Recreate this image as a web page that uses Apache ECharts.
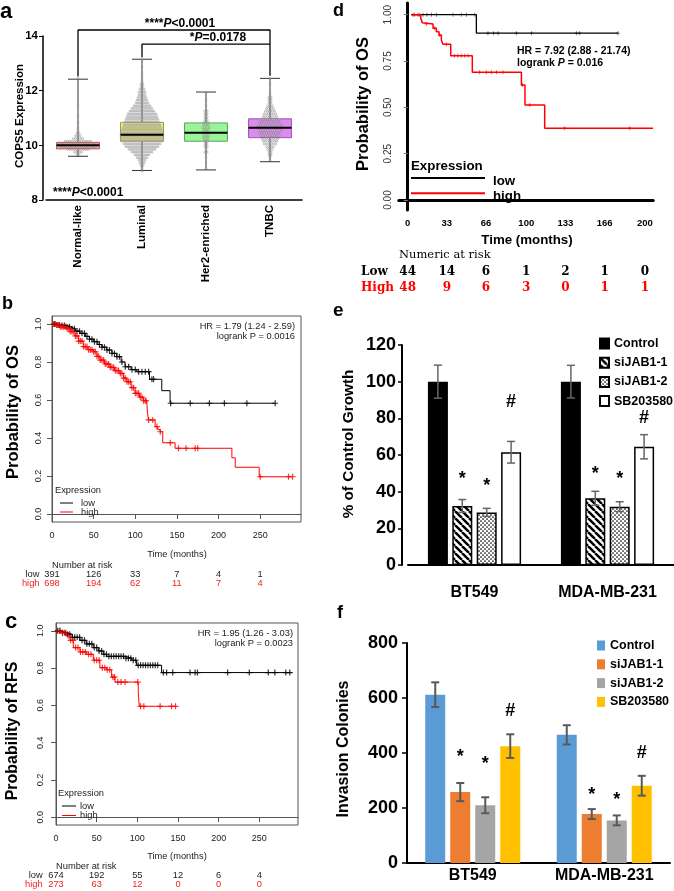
<!DOCTYPE html>
<html><head><meta charset="utf-8">
<script src="https://cdn.jsdelivr.net/npm/echarts@6/dist/echarts.min.js"></script>
<style>html,body{margin:0;padding:0;background:#fff}#c{width:674px;height:891px}</style>
</head><body><div id="c"></div>
<script>
// ===== Panel a: COPS5 expression by subtype =====
const subtypes = ['Normal-like', 'Luminal', 'Her2-enriched', 'TNBC'];
const boxMin = [9.6, 9.08, 9.1, 9.4];
const boxQ1 = [9.87, 10.15, 10.15, 10.28];
const boxMed = [10.0, 10.39, 10.46, 10.64];
const boxQ3 = [10.11, 10.84, 10.82, 10.97];
const boxMax = [12.42, 13.15, 11.95, 12.45];
const swarmStart = [9.6, 9.0, 9.1, 9.4];
const normalCounts = [2,4,10,16,17,12,5,3,2,1,1,0,1,0,1,0,0,0,1,0,0,0,0,0,0,0,0,0,1];
const luminalCounts = [1,1,2,3,4,6,8,11,14,17,19,21,22,22,22,21,20,19,18,17,16,15,13,11,9,7,6,5,4,4,3,2,2,1,1,1,1,0,1,0,0,1];
const her2Counts = [1,0,1,0,1,0,2,1,2,2,2,3,3,3,3,4,3,3,2,2,2,2,0,1,0,1,0,0,1];
const tnbcCounts = [1,1,2,2,3,4,6,7,8,9,10,11,12,11,10,9,7,6,5,4,3,2,2,2,1,1,0,0,1,0,1];

// ===== Panel b: OS (KM) =====
const osLow = [[0,1],[5,0.995],[10,0.992],[17.6,0.985],[22,0.975],[28,0.962],[33.7,0.951],[40,0.935],[45,0.92],[49.7,0.907],[55,0.892],[60,0.878],[65.7,0.863],[72,0.845],[77.8,0.828],[83,0.8],[87.8,0.775],[95,0.76],[101.8,0.749],[117,0.709],[131.8,0.649],[141.8,0.583],[268,0.583]];
const osHigh = [[0,1],[5,0.995],[10,0.985],[17.6,0.977],[22,0.96],[27.7,0.937],[32,0.91],[37.6,0.881],[43,0.865],[49.7,0.854],[54,0.83],[57.7,0.81],[63,0.79],[69.7,0.772],[75,0.755],[81.7,0.74],[86,0.715],[89.8,0.696],[95,0.665],[99.8,0.635],[105,0.615],[109.7,0.596],[113.8,0.59],[114.5,0.54],[115.8,0.495],[123.8,0.46],[127,0.445],[129.8,0.433],[133,0.375],[147.8,0.346],[216,0.296],[220,0.246],[248.8,0.196],[288.8,0.196]];
const osLowCens = [3,6,9,12,15,18,21,24,27,30,33,36,39,42,45,48,51,54,57,60,63,66,69,72,75,78,81,84,88,92,96,100,104,108,112,116,120,122,142.5,166,189,207,234,268];
const osHighCens = [2,4,6,8,10,12,14,16,18,20,22,24,26,28,30,32,34,36,38,40,42,44,46,48,50,52,54,56,58,60,62,64,66,68,70,72,74,76,78,80,82,84,86,88,90,92,94,96,98,100,102,104,106,108,110,112,113,116,121,126,130,142,152,161,172,175,250,284,289];
const riskTimesB = [0, 50, 100, 150, 200, 250];
const riskLowB = [391, 126, 33, 7, 4, 1];
const riskHighB = [698, 194, 62, 11, 7, 4];

// ===== Panel c: RFS (KM) =====
const rfsLow = [[0,1],[6,0.99],[13.1,0.981],[20,0.965],[29.5,0.949],[37,0.93],[45.8,0.91],[52,0.892],[58.1,0.874],[62.2,0.863],[86,0.853],[93,0.842],[99.1,0.815],[129.8,0.776],[289.5,0.776]];
const rfsHigh = [[0,1],[8,0.99],[13.1,0.974],[17.2,0.949],[21.3,0.91],[29.5,0.887],[37.7,0.874],[45.8,0.842],[54,0.802],[62.2,0.791],[68.4,0.752],[72.5,0.725],[101.1,0.667],[102.4,0.595],[147.4,0.595]];
const rfsLowCens = [2,5,8,11,14,17,20,23,26,29,32,35,38,41,44,47,50,53,56,59,62,65,68,71,74,77,80,83,86,89,92,95,98,101,104,107,110,113,116,119,122,125,132,136,143.5,164.8,171,173.9,211,237.6,261,269,282.5,287.4];
const rfsHighCens = [4,8,12,15,18,21,24,27,30,33,36,40,43,47,50,53,57,60,63,66,70,72,76,80,85,100.5,104,108,128,142,147];
const riskTimesC = [0, 50, 100, 150, 200, 250];
const riskLowC = [674, 192, 55, 12, 6, 4];
const riskHighC = [273, 63, 12, 0, 0, 0];

// ===== Panel d: OS (cohort) =====
const dLow = [[3.1,1],[57.9,0.9],[177.3,0.9]];
const dHigh = [[3.1,1],[11,0.98],[12.4,0.957],[13.8,0.95],[21.4,0.927],[24.2,0.908],[26.4,0.89],[28.4,0.863],[29.8,0.84],[36.3,0.779],[54.5,0.689],[95.9,0.62],[98.9,0.513],[115.5,0.387],[206.8,0.387]];
const dLowCens = [4.5,8.7,12.9,16.3,20,24.2,38.2,45.2,49.5,56.5,67.7,72.5,76.2,91.6,104.3,142.2,145,177.3];
const dHighCens = [5.9,10.1,15.7,22.8,27,32.6,39.6,42.4,45.2,48.1,50.9,60.7,66.3,70.5,74.8,80.4,96.7,102.9,132.4,187.2];
const dTicks = [0, 33, 66, 100, 133, 166, 200];
const riskLowD = [44, 14, 6, 1, 2, 1, 0];
const riskHighD = [48, 9, 6, 3, 0, 1, 1];

// ===== Panel e: % of control growth =====
const cellLines = ['BT549', 'MDA-MB-231'];
const treatments = ['Control', 'siJAB1-1', 'siJAB1-2', 'SB203580'];
const growthVals = [[100, 100], [32.2, 36.4], [28.7, 31.8], [61.5, 64.5]];
const growthErr = [[9, 8.9], [3.5, 3.8], [2.2, 2.7], [5.9, 6.6]];
const growthMarks = ['', '*', '*', '#'];
const growthMarkY = [[0, 49, 45.4, 89], [0, 51.8, 49, 80.2]];

// ===== Panel f: invasion colonies =====
const invVals = [[612, 466], [258, 178], [210, 155], [425, 281]];
const invErr = [[45, 35], [33, 18], [29, 18], [43, 36]];
const invMarks = ['', '*', '*', '#'];
const invMarkY = [[0, 400, 375.6, 551.5], [0, 261.6, 243.6, 400]];

// ----------------------------------------------------------------
const F = '"Liberation Sans", Arial, sans-serif';
const SERIF = '"DejaVu Serif", serif';
const boxFill = ['#f4a3a3', '#eeee8c', '#9af59a', '#dc8cf0'];
const boxStroke = ['#b06060', '#9a9a50', '#5fa05f', '#9a5aa8'];
const fColors = ['#5B9BD5', '#ED7D31', '#A5A5A5', '#FFC000'];

function stepAt(curve, t) { let s = curve[0][1]; for (const p of curve) { if (p[0] <= t) s = p[1]; else break; } return s; }

function stripeCanvas() {
  const c = document.createElement('canvas'); c.width = 7; c.height = 7;
  const g = c.getContext('2d'); g.fillStyle = '#fff'; g.fillRect(0, 0, 7, 7);
  g.strokeStyle = '#000'; g.lineWidth = 2.5; g.beginPath();
  for (let k = -7; k <= 7; k += 7) { g.moveTo(k, 0); g.lineTo(k + 7, 7); }
  g.stroke(); return c;
}
function dotCanvas() {
  const c = document.createElement('canvas'); c.width = 4; c.height = 4;
  const g = c.getContext('2d'); g.fillStyle = '#fff'; g.fillRect(0, 0, 4, 4);
  g.fillStyle = '#000';
  g.beginPath(); g.arc(1, 1, 0.85, 0, Math.PI * 2); g.fill();
  g.beginPath(); g.arc(3, 3, 0.85, 0, Math.PI * 2); g.fill();
  return c;
}
const eStyles = [
  { color: '#000', borderColor: '#000', borderWidth: 1.5 },
  { color: { image: stripeCanvas(), repeat: 'repeat' }, borderColor: '#000', borderWidth: 1.5 },
  { color: { image: dotCanvas(), repeat: 'repeat' }, borderColor: '#000', borderWidth: 1.5 },
  { color: '#fff', borderColor: '#000', borderWidth: 1.5 }
];

// swarm data
const allCounts = [normalCounts, luminalCounts, her2Counts, tnbcCounts];
const swarmData = [];
allCounts.forEach((arr, g) => arr.forEach((n, b) => {
  for (let k = 0; k < n; k++) swarmData.push([g, swarmStart[g] + (b + 0.5) * 0.1, k - (n - 1) / 2]);
}));
const boxData = subtypes.map((s, i) => [i, boxMin[i], boxQ1[i], boxMed[i], boxQ3[i], boxMax[i]]);

const crossSym = 'path://M4,0H6V4H10V6H6V10H4V6H0V4H4Z';

function km(name, data, color, xi, width) {
  return { type: 'line', name, xAxisIndex: xi, yAxisIndex: xi, data, step: 'end', showSymbol: false, symbol: 'none',
    lineStyle: { color, width }, silent: true, animation: false };
}
function cens(data, curve, color, xi, size) {
  return { type: 'scatter', xAxisIndex: xi, yAxisIndex: xi, data: data.map(t => [t, stepAt(curve, t)]),
    symbol: crossSym, symbolSize: size, itemStyle: { color }, silent: true };
}
function errSeries(xi, vals, errs, step, capHalf, color, lw, marks, markY) {
  const data = [];
  vals.forEach((arr, s) => arr.forEach((v, cat) => data.push([cat, v, errs[s][cat], s])));
  return { type: 'custom', xAxisIndex: xi, yAxisIndex: xi, data, z: 5, silent: true,
    renderItem(params, api) {
      const cat = api.value(0), v = api.value(1), e = api.value(2), s = api.value(3);
      const x = api.coord([cat, v])[0] + (s - 1.5) * step;
      const yt = api.coord([cat, v + e])[1], yb = api.coord([cat, v - e])[1];
      const st = { stroke: color, lineWidth: lw };
      const ch = [
        { type: 'line', shape: { x1: x, y1: yt, x2: x, y2: yb }, style: st },
        { type: 'line', shape: { x1: x - capHalf, y1: yt, x2: x + capHalf, y2: yt }, style: st },
        { type: 'line', shape: { x1: x - capHalf, y1: yb, x2: x + capHalf, y2: yb }, style: st }
      ];
      const mk = marks[s];
      if (mk) {
        const my = api.coord([cat, markY[cat][s]])[1] + (mk === '*' ? 4 : 0);
        ch.push({ type: 'text', style: { text: mk, x, y: my, font: 'bold 18px ' + F, fill: '#000', textAlign: 'center', textVerticalAlign: 'middle' } });
      }
      return { type: 'group', children: ch };
    }
  };
}

const axBlack = { lineStyle: { color: '#000', width: 1.5 } };
const rLabel = { fontSize: 9, color: '#222', fontFamily: F };

const option = {
  animation: false,
  textStyle: { fontFamily: F },
  grid: [
    { left: 46, top: 36, width: 256, height: 164 },
    { left: 52, top: 316, width: 249, height: 206, show: true, borderColor: '#555', borderWidth: 1 },
    { left: 56, top: 623, width: 242, height: 202, show: true, borderColor: '#555', borderWidth: 1 },
    { left: 399, top: 3, width: 254, height: 207 },
    { left: 408, top: 345, width: 266, height: 220 },
    { left: 407, top: 643, width: 263, height: 220 }
  ],
  xAxis: [
    { gridIndex: 0, type: 'category', data: subtypes, axisLine: axBlack,
      axisTick: { alignWithLabel: true, length: 4, lineStyle: { color: '#000' } },
      axisLabel: { rotate: 90, interval: 0, fontWeight: 'bold', fontSize: 11.5, color: '#000', margin: 5 } },
    { gridIndex: 1, type: 'value', min: 0, max: 299, splitLine: { show: false },
      axisLine: { lineStyle: { color: '#555' } },
      axisTick: { customValues: riskTimesB, length: 5, lineStyle: { color: '#555' } },
      axisLabel: Object.assign({ customValues: riskTimesB, margin: 9 }, rLabel) },
    { gridIndex: 2, type: 'value', min: 0, max: 297.5, splitLine: { show: false },
      axisLine: { lineStyle: { color: '#555' } },
      axisTick: { customValues: riskTimesC, length: 5, lineStyle: { color: '#555' } },
      axisLabel: Object.assign({ customValues: riskTimesC, margin: 9 }, rLabel) },
    { gridIndex: 3, type: 'value', min: -7.3, max: 206.8, splitLine: { show: false },
      axisLine: { lineStyle: { color: '#000', width: 3 } }, axisTick: { show: false },
      axisLabel: { customValues: dTicks, fontWeight: 'bold', fontSize: 9.5, color: '#000', margin: 8 } },
    { gridIndex: 4, type: 'category', data: cellLines, axisLine: { lineStyle: { color: '#000', width: 2 } },
      axisTick: { show: false }, axisLabel: { fontWeight: 'bold', fontSize: 16, color: '#000', margin: 20 } },
    { gridIndex: 5, type: 'category', data: cellLines, axisLine: { lineStyle: { color: '#000', width: 2 } },
      axisTick: { show: false }, axisLabel: { fontWeight: 'bold', fontSize: 16, color: '#000', margin: 5 } },
    { gridIndex: 3, type: 'value', position: 'top', min: -7.3, max: 206.8, splitLine: { show: false },
      axisLine: { lineStyle: { color: '#000', width: 3 } }, axisTick: { show: false }, axisLabel: { show: false } }
  ],
  yAxis: [
    { gridIndex: 0, type: 'value', min: 8, max: 14, interval: 2, offset: 3, splitLine: { show: false },
      axisLine: { show: true, lineStyle: { color: '#000', width: 1.5 } },
      axisTick: { show: true, length: 4, lineStyle: { color: '#000' } },
      axisLabel: { fontWeight: 'bold', fontSize: 11.5, color: '#000', margin: 5 } },
    { gridIndex: 1, type: 'value', min: -0.042, max: 1.042, splitLine: { show: false },
      axisLine: { show: true, lineStyle: { color: '#555' } },
      axisTick: { show: true, customValues: [0, 0.2, 0.4, 0.6, 0.8, 1], length: 5, lineStyle: { color: '#555' } },
      axisLabel: Object.assign({ customValues: [0, 0.2, 0.4, 0.6, 0.8, 1], rotate: 90, margin: 9, formatter: v => (+v).toFixed(1) }, rLabel) },
    { gridIndex: 2, type: 'value', min: -0.042, max: 1.042, splitLine: { show: false },
      axisLine: { show: true, lineStyle: { color: '#555' } },
      axisTick: { show: true, customValues: [0, 0.2, 0.4, 0.6, 0.8, 1], length: 5, lineStyle: { color: '#555' } },
      axisLabel: Object.assign({ customValues: [0, 0.2, 0.4, 0.6, 0.8, 1], rotate: 90, margin: 11, formatter: v => (+v).toFixed(1) }, rLabel) },
    { gridIndex: 3, type: 'value', min: -0.054, max: 1.063, splitLine: { show: false },
      axisLine: { show: true, lineStyle: { color: '#999', width: 1 } },
      axisTick: { show: true, customValues: [0, 0.25, 0.5, 0.75, 1], length: 4, lineStyle: { color: '#777' } },
      axisLabel: { customValues: [0, 0.25, 0.5, 0.75, 1], rotate: 90, margin: 6, fontSize: 10, color: '#333', formatter: v => (+v).toFixed(2) } },
    { gridIndex: 4, type: 'value', min: 0, max: 120, interval: 20, offset: 6, splitLine: { show: false },
      axisLine: { show: true, lineStyle: { color: '#000', width: 2 } },
      axisTick: { show: true, length: 4, lineStyle: { color: '#000', width: 1.5 } },
      axisLabel: { fontWeight: 'bold', fontSize: 18, color: '#000', margin: 6 } },
    { gridIndex: 5, type: 'value', min: 0, max: 800, interval: 200, splitLine: { show: false },
      axisLine: { show: true, lineStyle: { color: '#000', width: 2 } },
      axisTick: { show: true, length: 5, lineStyle: { color: '#000', width: 1.5 } },
      axisLabel: { fontWeight: 'bold', fontSize: 18, color: '#000', margin: 9 } },
    { gridIndex: 3, type: 'value', position: 'right', min: -0.054, max: 1.063, splitLine: { show: false },
      axisLine: { show: true, lineStyle: { color: '#000', width: 3 } }, axisTick: { show: false }, axisLabel: { show: false } }
  ],
  legend: [
    { data: treatments, orient: 'vertical', left: 594, top: 332, padding: 5, itemWidth: 9, itemHeight: 10, itemGap: 6.2,
      icon: 'rect', selectedMode: false, textStyle: { fontWeight: 'bold', fontSize: 12.5, color: '#000', fontFamily: F } },
    { data: treatments.map(t => 'f-' + t), formatter: n => n.slice(2), orient: 'vertical', left: 592, top: 634, padding: 5,
      itemWidth: 8, itemHeight: 10, itemGap: 5.8, icon: 'rect', selectedMode: false,
      textStyle: { fontWeight: 'bold', fontSize: 12.5, color: '#000', fontFamily: F } }
  ],
  series: [
    // panel a boxes + whiskers
    { type: 'custom', xAxisIndex: 0, yAxisIndex: 0, data: boxData, z: 2, silent: true,
      renderItem(params, api) {
        const g = api.value(0), i = params.dataIndex;
        const x = api.coord([g, api.value(3)])[0];
        const y = v => api.coord([g, v])[1];
        const hw = api.size([1, 0])[0] * 0.335, cw = 10;
        const ws = { stroke: '#333', lineWidth: 1 };
        return { type: 'group', children: [
          { type: 'line', shape: { x1: x, y1: y(api.value(1)), x2: x, y2: y(api.value(5)) }, style: ws },
          { type: 'line', shape: { x1: x - cw, y1: y(api.value(1)), x2: x + cw, y2: y(api.value(1)) }, style: ws },
          { type: 'line', shape: { x1: x - cw, y1: y(api.value(5)), x2: x + cw, y2: y(api.value(5)) }, style: ws },
          { type: 'rect', shape: { x: x - hw, y: y(api.value(4)), width: 2 * hw, height: y(api.value(2)) - y(api.value(4)) },
            style: { fill: boxFill[i], stroke: boxStroke[i], lineWidth: 1 } }
        ] };
      } },
    // swarm dots
    { type: 'custom', xAxisIndex: 0, yAxisIndex: 0, data: swarmData, z: 3, silent: true,
      renderItem(params, api) {
        const p = api.coord([api.value(0), api.value(1)]);
        const sp = api.value(0) === 1 ? 2.0 : 2.3;
        return { type: 'circle', shape: { cx: p[0] + api.value(2) * sp, cy: p[1], r: 1.0 },
          style: { fill: 'rgba(235,235,235,0.5)', stroke: 'rgba(90,90,90,0.75)', lineWidth: 0.45 } };
      } },
    // medians
    { type: 'custom', xAxisIndex: 0, yAxisIndex: 0, data: boxData, z: 4, silent: true,
      renderItem(params, api) {
        const g = api.value(0);
        const p = api.coord([g, api.value(3)]);
        const hw = api.size([1, 0])[0] * 0.335;
        return { type: 'line', shape: { x1: p[0] - hw, y1: p[1], x2: p[0] + hw, y2: p[1] }, style: { stroke: '#000', lineWidth: 2 } };
      } },
    { type: 'line', xAxisIndex: 0, yAxisIndex: 0, data: [[0, 12.52], [0, 14.22], [3, 14.22], [3, 12.55]], clip: false,
      symbol: 'none', lineStyle: { color: '#000', width: 1.3 }, silent: true },
    { type: 'line', xAxisIndex: 0, yAxisIndex: 0, data: [[1, 13.22], [1, 13.7], [3, 13.7]], clip: false,
      symbol: 'none', lineStyle: { color: '#000', width: 1.3 }, silent: true },
    // panel b
    km('bLow', osLow, '#000', 1, 1), km('bHigh', osHigh, '#f00', 1, 1),
    cens(osLowCens, osLow, '#000', 1, 6), cens(osHighCens, osHigh, '#f00', 1, 6),
    // panel c
    km('cLow', rfsLow, '#000', 2, 1), km('cHigh', rfsHigh, '#f00', 2, 1),
    cens(rfsLowCens, rfsLow, '#000', 2, 6), cens(rfsHighCens, rfsHigh, '#f00', 2, 6),
    // panel d
    km('dLow', dLow, '#000', 3, 1.3), km('dHigh', dHigh, '#f00', 3, 1.5),
    cens(dLowCens, dLow, '#333', 3, 4), cens(dHighCens, dHigh, '#f00', 3, 4),
    // panel e
    ...treatments.map((t, s) => ({ type: 'bar', name: t, xAxisIndex: 4, yAxisIndex: 4, data: growthVals[s],
      barWidth: 20, barGap: '22%', itemStyle: eStyles[s], silent: true })),
    errSeries(4, growthVals, growthErr, 24.4, 4, '#666', 1.5, growthMarks, growthMarkY),
    // panel f
    ...treatments.map((t, s) => ({ type: 'bar', name: 'f-' + t, xAxisIndex: 5, yAxisIndex: 5, data: invVals[s],
      barWidth: 20, barGap: '25%', itemStyle: { color: fColors[s] }, silent: true })),
    errSeries(5, invVals, invErr, 25, 4, '#595959', 2, invMarks, invMarkY)
  ]
};

const chart = echarts.init(document.getElementById('c'), null, { renderer: 'canvas' });
chart.setOption(option);

// ---------- text annotations ----------
function T(text, x, y, font, o) {
  o = o || {};
  return { type: 'text', x, y, rotation: o.rot || 0, silent: true, z: 10,
    style: { text, font, fill: o.fill || '#000', textAlign: o.align || 'left', textVerticalAlign: o.va || 'middle', rich: o.rich } };
}
function L(x1, y1, x2, y2, stroke, lw) {
  return { type: 'line', silent: true, z: 10, shape: { x1, y1, x2, y2 }, style: { stroke, lineWidth: lw } };
}
const bold = s => 'bold ' + s + 'px ' + F;
const norm = s => s + 'px ' + F;
const R90 = Math.PI / 2;
const richP = (sz) => ({ b: { fontWeight: 'bold', fontSize: sz, fontFamily: F, fill: '#000', color: '#000' },
  i: { fontWeight: 'bold', fontStyle: 'italic', fontSize: sz, fontFamily: F, fill: '#000', color: '#000' } });

const g = [];
// panel letters
g.push(T('a', 0, 12, bold(22)), T('b', 2, 304, bold(18)), T('c', 5, 622, bold(22)),
  T('d', 333, 11, bold(18)), T('e', 333, 311, bold(19)), T('f', 337, 613, bold(18)));
// panel a
g.push(T('COPS5 Expression', 20, 116, bold(11.5), { rot: R90, align: 'center' }));
g.push(T('{b|****}{i|P}{b|<0.0001}', 180, 24, bold(12), { align: 'center', rich: richP(12) }));
g.push(T('{b|*}{i|P}{b|=0.0178}', 218, 38, bold(12), { align: 'center', rich: richP(12) }));
g.push(T('{b|****}{i|P}{b|<0.0001}', 53, 193, bold(12), { rich: richP(12) }));
// panel b
g.push(T('Probability of OS', 13, 412, bold(16.5), { rot: R90, align: 'center' }));
g.push(T('HR = 1.79 (1.24 - 2.59)', 295, 326, norm(9.3), { align: 'right', fill: '#222' }));
g.push(T('logrank P = 0.0016', 295, 336, norm(9.3), { align: 'right', fill: '#222' }));
g.push(T('Expression', 55, 490, norm(9.3), { fill: '#222' }));
g.push(L(60, 503, 73, 503, '#000', 1), T('low', 81, 503, norm(9.3), { fill: '#222' }));
g.push(L(60, 512, 73, 512, '#f00', 1), T('high', 81, 512, norm(9.3), { fill: '#222' }));
g.push(T('Time (months)', 177, 554, norm(9.3), { align: 'center', fill: '#222' }));
g.push(T('Number at risk', 52, 565, norm(9.3), { fill: '#222' }));
g.push(T('low', 39.5, 574, norm(9.3), { align: 'right', fill: '#222' }));
g.push(T('high', 39.5, 583, norm(9.3), { align: 'right', fill: '#e22' }));
riskTimesB.forEach((t, i) => {
  const x = chart.convertToPixel({ xAxisIndex: 1 }, t);
  g.push(T(String(riskLowB[i]), x, 574, norm(9.3), { align: 'center', fill: '#222' }));
  g.push(T(String(riskHighB[i]), x, 583, norm(9.3), { align: 'center', fill: '#e22' }));
});
// panel c
g.push(T('Probability of RFS', 13, 731, bold(16), { rot: R90, align: 'center' }));
g.push(T('HR = 1.95 (1.26 - 3.03)', 293, 633, norm(9.3), { align: 'right', fill: '#222' }));
g.push(T('logrank P = 0.0023', 293, 643, norm(9.3), { align: 'right', fill: '#222' }));
g.push(T('Expression', 58, 793, norm(9.3), { fill: '#222' }));
g.push(L(62, 806, 76, 806, '#000', 1), T('low', 80, 806, norm(9.3), { fill: '#222' }));
g.push(L(62, 815.5, 76, 815.5, '#f00', 1), T('high', 80, 815.5, norm(9.3), { fill: '#222' }));
g.push(T('Time (months)', 177, 856, norm(9.3), { align: 'center', fill: '#222' }));
g.push(T('Number at risk', 56, 866, norm(9.3), { fill: '#222' }));
g.push(T('low', 42.7, 875, norm(9.3), { align: 'right', fill: '#222' }));
g.push(T('high', 42.7, 884, norm(9.3), { align: 'right', fill: '#e22' }));
riskTimesC.forEach((t, i) => {
  const x = chart.convertToPixel({ xAxisIndex: 2 }, t);
  g.push(T(String(riskLowC[i]), x, 875, norm(9.3), { align: 'center', fill: '#222' }));
  g.push(T(String(riskHighC[i]), x, 884, norm(9.3), { align: 'center', fill: '#e22' }));
});
// panel d
g.push(T('Probability of OS', 363, 104, bold(16.5), { rot: R90, align: 'center' }));
g.push(T('HR = 7.92 (2.88 - 21.74)', 517, 51, bold(10.5)));
g.push(T('{b|logrank }{i|P}{b| = 0.016}', 517, 63, bold(10.5), { rich: richP(10.5) }));
g.push(T('Expression', 411, 166, bold(13.3)));
g.push(L(411, 178, 485, 178, '#000', 2), T('low', 493, 181, bold(13.3)));
g.push(L(411, 193.3, 485, 193.3, '#f00', 2), T('high', 493, 196, bold(13.3)));
g.push(T('Time (months)', 527, 240, bold(13.3), { align: 'center' }));
g.push(T('Numeric at risk', 399, 255, '11.5px ' + SERIF));
g.push(T('Low', 361, 272, 'bold 12px ' + SERIF));
g.push(T('High', 361, 288, 'bold 12px ' + SERIF, { fill: '#f00' }));
dTicks.forEach((t, i) => {
  const x = chart.convertToPixel({ xAxisIndex: 3 }, t);
  g.push(T(String(riskLowD[i]), x, 272, 'bold 12px ' + SERIF, { align: 'center' }));
  g.push(T(String(riskHighD[i]), x, 288, 'bold 12px ' + SERIF, { align: 'center', fill: '#f00' }));
});
// panel e, f axis names
g.push(T('% of Control Growth', 349, 444, bold(15.3), { rot: R90, align: 'center' }));
g.push(T('Invasion Colonies', 344, 749, bold(16), { rot: R90, align: 'center' }));

chart.setOption({ graphic: g });
</script>
</body></html>
